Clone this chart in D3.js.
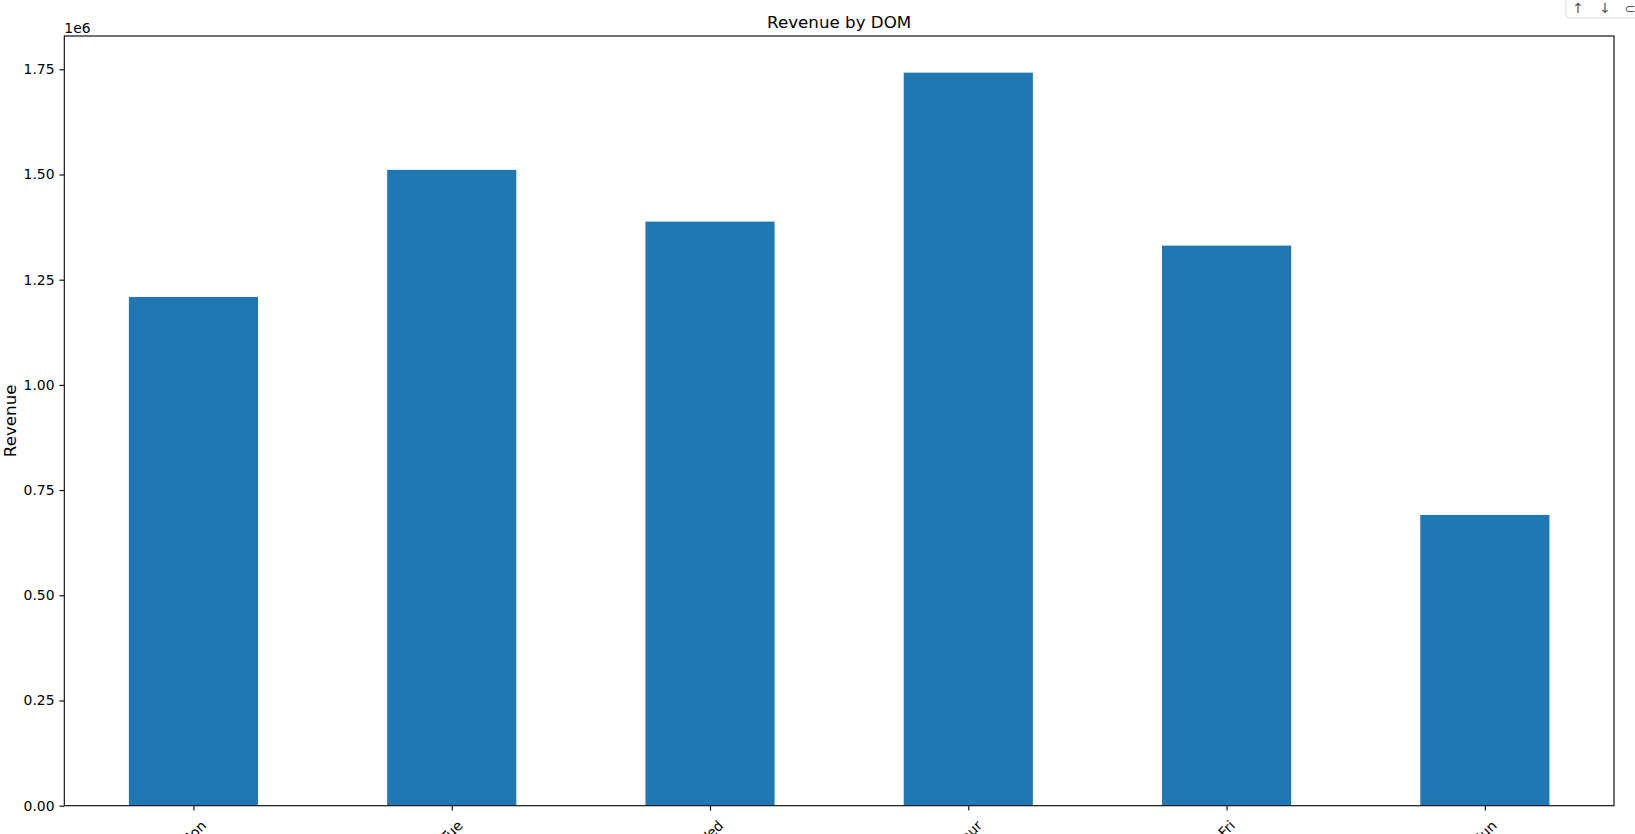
<!DOCTYPE html>
<html>
<head>
<meta charset="utf-8">
<script src="https://cdn.jsdelivr.net/npm/d3@7"></script>
<style>
  html, body { margin: 0; padding: 0; background: #fff; }
  svg { display: block; font-family: "DejaVu Sans", sans-serif; }
</style>
</head>
<body>
<svg id="chart" width="1635" height="834"></svg>
<script>
const categories = ["Mon", "Tue", "Wed", "Thur", "Fri", "Sun"];
const revenue = [1209000, 1511000, 1388000, 1742000, 1331000, 691000];
const yTicks = [0, 250000, 500000, 750000, 1000000, 1250000, 1500000, 1750000];
const title = "Revenue by DOM";
const yLabel = "Revenue";

const svg = d3.select("#chart");
const W = 1635, H = 834;
const m = { left: 64.3, right: 1614, top: 36, bottom: 805.7 };

const x = d3.scaleLinear().domain([-0.5, categories.length - 0.5]).range([m.left, m.right]);
const yMax = d3.max(revenue) * 1.05;
const y = d3.scaleLinear().domain([0, yMax]).range([m.bottom, m.top]);

// bars
svg.append("g").selectAll("rect").data(revenue).join("rect")
  .attr("x", (d, i) => x(i - 0.25))
  .attr("width", (d, i) => x(i + 0.25) - x(i - 0.25))
  .attr("y", d => y(d))
  .attr("height", d => y(0) - y(d))
  .attr("fill", "#1f77b4");

// frame
svg.append("rect")
  .attr("x", m.left).attr("y", m.top)
  .attr("width", m.right - m.left).attr("height", m.bottom - m.top)
  .attr("fill", "none").attr("stroke", "#000").attr("stroke-width", 1.1);

// y axis
const yAxis = d3.axisLeft(y).tickValues(yTicks).tickSize(4.9).tickPadding(4.9)
  .tickFormat(d => (d / 1e6).toFixed(2));
const gy = svg.append("g").attr("transform", `translate(${m.left},0)`).call(yAxis);
gy.select(".domain").remove();
gy.selectAll("line").attr("stroke", "#000").attr("stroke-width", 1.1);
gy.selectAll("text").attr("font-size", "13.9px").attr("fill", "#000")
  .attr("font-family", "DejaVu Sans, sans-serif");

// x axis
const xAxis = d3.axisBottom(x).tickValues(d3.range(categories.length)).tickSize(4.9).tickFormat("");
const gx = svg.append("g").attr("transform", `translate(0,${m.bottom})`).call(xAxis);
gx.select(".domain").remove();
gx.selectAll("line").attr("stroke", "#000").attr("stroke-width", 1.1);

// rotated x labels (45deg, centered bbox, top aligned)
const labelTop = m.bottom + 11.5;
categories.forEach((c, i) => {
  const t = svg.append("text")
    .attr("font-size", "13.9px")
    .attr("fill", "#000")
    .attr("text-anchor", "middle")
    .attr("dominant-baseline", "central")
    .text(c);
  const w = t.node().getComputedTextLength();
  const h = 16.3;
  const bh = (w + h) * Math.SQRT1_2;
  const cx = x(i), cy = labelTop + bh / 2;
  t.attr("x", cx).attr("y", cy).attr("transform", `rotate(-45,${cx},${cy})`);
});

// offset text
svg.append("text").attr("x", m.left).attr("y", 32.5)
  .attr("font-size", "13.9px").attr("fill", "#000").text("1e6");

// title
svg.append("text").attr("x", (m.left + m.right) / 2).attr("y", 28)
  .attr("text-anchor", "middle").attr("font-size", "16.7px").attr("fill", "#000").text(title);

// y label
svg.append("text")
  .attr("transform", `translate(15.5,${(m.top + m.bottom) / 2}) rotate(-90)`)
  .attr("text-anchor", "middle").attr("font-size", "16.7px").attr("fill", "#000").text(yLabel);

// small toolbar widget at top-right
const tb = svg.append("g");
tb.append("rect").attr("x", 1566).attr("y", -4).attr("width", 80).attr("height", 22).attr("rx", 3)
  .attr("fill", "#fff").attr("stroke", "#ddd");
tb.append("text").attr("x", 1578).attr("y", 13).attr("font-size", "14px").attr("fill", "#555")
  .attr("text-anchor", "middle").text("↑");
tb.append("text").attr("x", 1605).attr("y", 13).attr("font-size", "14px").attr("fill", "#555")
  .attr("text-anchor", "middle").text("↓");
tb.append("text").attr("x", 1630).attr("y", 13).attr("font-size", "13px").attr("fill", "#555")
  .attr("text-anchor", "middle").text("⊂");
</script>
</body>
</html>
